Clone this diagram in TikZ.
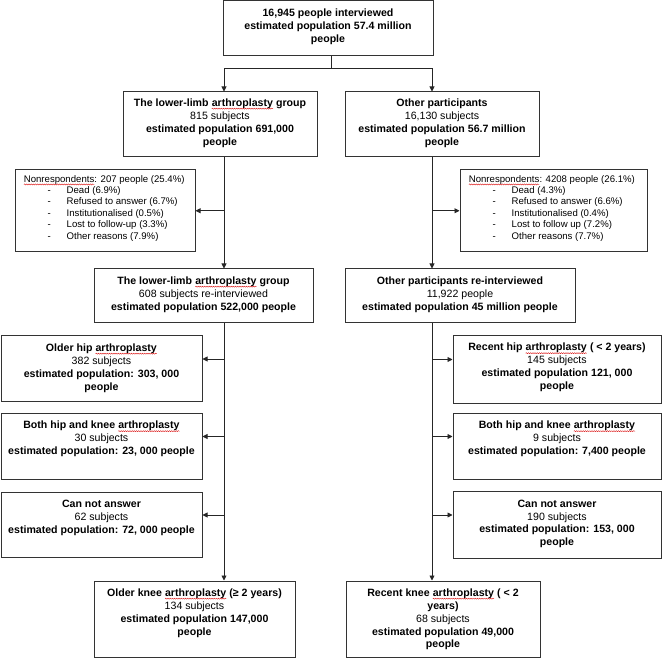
\documentclass[tikz,border=0pt]{standalone}
\usepackage{fontspec}
\setmainfont{Liberation Sans}
\usetikzlibrary{arrows.meta,fit,decorations.pathmorphing}
\newcommand\sq[1]{\tikz[baseline=(sqw.base)]{\node[inner sep=0pt,outer sep=0pt,anchor=base] (sqw) {#1};\draw[red!85!black, line width=0.35pt, decorate, decoration={snake, amplitude=0.55pt, segment length=2.2pt}] ([yshift=-2.3pt]sqw.base west) -- ([yshift=-2.3pt]sqw.base east);}}
\tikzset{
  box/.style={draw=black!80, line width=1pt, rectangle, inner sep=0pt, fill=white},
  txt/.style={inner sep=0pt, align=center, font=\fontsize{10.6}{12.9}\selectfont, anchor=north},
  ntxt/.style={inner sep=0pt, align=left, font=\fontsize{9.6}{11.4}\selectfont, anchor=north west},
  conn/.style={draw=black!85, line width=0.9pt},
  arr/.style={conn, -{Triangle[length=5pt,width=5pt]}}
}
\newcommand\itm[1]{\hspace*{24pt}\makebox[19pt][l]{-}#1}
\begin{document}
\begin{tikzpicture}[x=1pt,y=-1pt]
\useasboundingbox (0,0) rectangle (662,660);
% boxes
\node[box, fit={(223,1) (433,56)}] (top) {};
\node[box, fit={(123,92) (317,157)}] (L1) {};
\node[box, fit={(345,92) (539,157)}] (R1) {};
\node[box, fit={(15,169.5) (195,252)}] (NL) {};
\node[box, fit={(460,169.5) (647,252)}] (NR) {};
\node[box, fit={(94,269) (313,323)}] (L2) {};
\node[box, fit={(345,269) (575,323)}] (R2) {};
\node[box, fit={(1,336) (202,402)}] (A1) {};
\node[box, fit={(1,413.5) (202,479.5)}] (A2) {};
\node[box, fit={(1,492.5) (202,557.5)}] (A3) {};
\node[box, fit={(453,335.5) (661,403.5)}] (B1) {};
\node[box, fit={(453,413.5) (661,479.5)}] (B2) {};
\node[box, fit={(453,492) (661,558)}] (B3) {};
\node[box, fit={(94,581) (295,657)}] (LB) {};
\node[box, fit={(346,581) (540,657)}] (RB) {};
% texts
\node[txt] (topT) at ([yshift=-8pt]top.north) {\textbf{16,945 people interviewed}\\\textbf{estimated population 57.4 million}\\\textbf{people}};
\node[txt] (L1T) at ([yshift=-7pt]L1.north) {\textbf{The lower-limb \sq{arthroplasty} group}\\815 subjects\\\textbf{estimated population 691,000}\\\textbf{people}};
\node[txt] (R1T) at ([yshift=-7pt]R1.north) {\textbf{Other participants}\\16,130 subjects\\\textbf{estimated population 56.7 million}\\\textbf{people}};
\node[ntxt] (NLT) at ([xshift=9pt,yshift=-6pt]NL.north west) {\sq{Nonrespondents}: 207 people (25.4\%)\\\itm{Dead (6.9\%)}\\\itm{Refused to answer (6.7\%)}\\\itm{Institutionalised (0.5\%)}\\\itm{Lost to follow-up (3.3\%)}\\\itm{Other reasons (7.9\%)}};
\node[ntxt] (NRT) at ([xshift=9pt,yshift=-6pt]NR.north west) {\sq{Nonrespondents}: 4208 people (26.1\%)\\\itm{Dead (4.3\%)}\\\itm{Refused to answer (6.6\%)}\\\itm{Institutionalised (0.4\%)}\\\itm{Lost to follow up (7.2\%)}\\\itm{Other reasons (7.7\%)}};
\node[txt] (L2T) at ([yshift=-8pt]L2.north) {\textbf{The lower-limb \sq{arthroplasty} group}\\608 subjects re-interviewed\\\textbf{estimated population 522,000 people}};
\node[txt] (R2T) at ([yshift=-8pt]R2.north) {\textbf{Other participants re-interviewed}\\11,922 people\\\textbf{estimated population 45 million people}};
\node[txt] (A1T) at ([yshift=-8pt]A1.north) {\textbf{Older hip \sq{arthroplasty}}\\382 subjects\\\textbf{estimated population: 303, 000}\\\textbf{people}};
\node[txt] (A2T) at ([yshift=-8pt]A2.north) {\textbf{Both hip and knee \sq{arthroplasty}}\\30 subjects\\\textbf{estimated population: 23, 000 people}};
\node[txt] (A3T) at ([yshift=-8pt]A3.north) {\textbf{Can not answer}\\62 subjects\\\textbf{estimated population: 72, 000 people}};
\node[txt] (B1T) at ([yshift=-8pt]B1.north) {\textbf{Recent hip \sq{arthroplasty} ( < 2 years)}\\145 subjects\\\textbf{estimated population 121, 000}\\\textbf{people}};
\node[txt] (B2T) at ([yshift=-8pt]B2.north) {\textbf{Both hip and knee \sq{arthroplasty}}\\9 subjects\\\textbf{estimated population: 7,400 people}};
\node[txt] (B3T) at ([yshift=-8pt]B3.north) {\textbf{Can not answer}\\190 subjects\\\textbf{estimated population: 153, 000}\\\textbf{people}};
\node[txt] (LBT) at ([yshift=-8pt]LB.north) {\textbf{Older knee \sq{arthroplasty} (≥ 2 years)}\\134 subjects\\\textbf{estimated population 147,000}\\\textbf{people}};
\node[txt] (RBT) at ([yshift=-8pt]RB.north) {\textbf{Recent knee \sq{arthroplasty} ( < 2}\\\textbf{years)}\\68 subjects\\\textbf{estimated population 49,000}\\\textbf{people}};
% connectors
\coordinate (j0) at (331,68);
\coordinate (xL) at (224,0);
\coordinate (xR) at (432,0);
\coordinate (a1) at ([yshift=10pt]A1.east);
\coordinate (a2) at ([yshift=10pt]A2.east);
\coordinate (a3) at ([yshift=10pt]A3.east);
\coordinate (b1) at ([yshift=10pt]B1.west);
\coordinate (b2) at ([yshift=10pt]B2.west);
\coordinate (b3) at ([yshift=10pt]B3.west);
\draw[conn] (top.south -| j0) -- (j0);
\draw[arr] (j0) -| (xL |- L1.north);
\draw[arr] (j0) -| (xR |- R1.north);
\draw[arr] (xL |- L1.south) -- (xL |- L2.north);
\draw[arr] (xR |- R1.south) -- (xR |- R2.north);
\draw[arr] (xL |- NL.east) -- (NL.east);
\draw[arr] (xR |- NR.west) -- (NR.west);
\draw[arr] (xL |- L2.south) -- (xL |- LB.north);
\draw[arr] (xR |- R2.south) -- (xR |- RB.north);
\draw[arr] (xL |- a1) -- (a1);
\draw[arr] (xL |- a2) -- (a2);
\draw[arr] (xL |- a3) -- (a3);
\draw[arr] (xR |- b1) -- (b1);
\draw[arr] (xR |- b2) -- (b2);
\draw[arr] (xR |- b3) -- (b3);
\end{tikzpicture}
\end{document}
